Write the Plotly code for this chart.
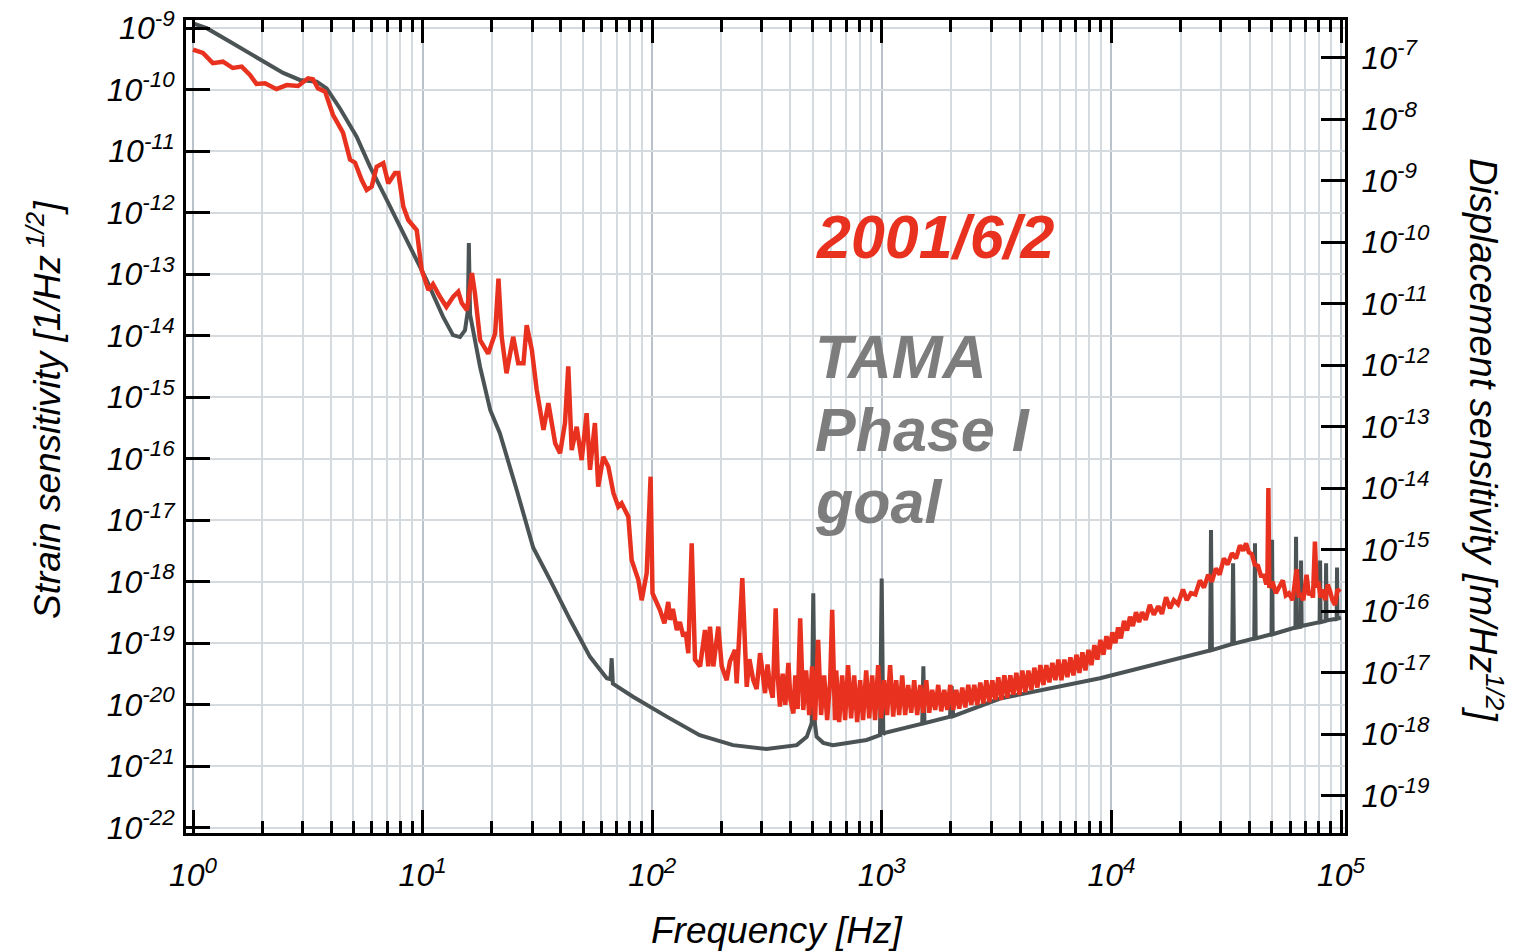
import numpy as np
import plotly.graph_objects as go

# ---------------- data ----------------
decade_freqs = [1, 10, 100, 1000, 10000, 100000]
decade_freq_labels = ["10<sup>0</sup>", "10<sup>1</sup>", "10<sup>2</sup>",
                      "10<sup>3</sup>", "10<sup>4</sup>", "10<sup>5</sup>"]
strain_exps = list(range(-22, -8))
disp_exps = list(range(-19, -6))
arm_length = 300.0  # displacement = strain * arm length

goal_freq = [1.0, 1.147, 1.45, 2.02, 2.47, 2.92, 3.46, 3.82, 4.36, 5.16, 5.90, 6.98,
             8.53, 10.4, 12.27, 13.56, 14.55, 15.3, 15.75, 15.9, 16.1, 17.8, 19.7,
             21.7, 25.7, 30.3, 35.9, 43.9, 53.6, 63.4, 65.8, 66.6, 67.4, 82.5, 115.7,
             136, 161, 225, 270, 315, 426, 471, 495, 503, 511, 520, 556, 612, 859, 982,
             999, 1015, 1033, 1419, 1500, 1517, 1534, 1982, 2014, 2046, 3273, 8920,
             26900, 27150, 27400, 33600, 33880, 34160, 41900, 42200, 42500,
             49800, 50100, 50400, 63300, 63700, 64100, 66600, 67000, 67400,
             80700, 81100, 81500, 85700, 86100, 86500, 95700, 96100, 96500, 100000]
goal_strain = [1.2e-9, 1.0e-9, 6.0e-10, 2.85e-10, 1.87e-10, 1.44e-10, 1.35e-10, 1.05e-10,
               5.0e-11, 1.72e-11, 5.6e-12, 1.61e-12, 3.6e-13, 8.05e-14, 2.04e-14,
               1.02e-14, 9.5e-15, 1.23e-14, 2.6e-14, 3.2e-13, 2.2e-14, 3.1e-15, 6.2e-16,
               2.6e-16, 3.1e-17, 3.6e-18, 1.07e-18, 2.4e-19, 6.0e-20, 2.7e-20, 2.6e-20,
               5.7e-20, 2.2e-20, 1.35e-20, 6.4e-21, 4.5e-21, 3.2e-21, 2.2e-21, 2.0e-21,
               1.9e-21, 2.2e-21, 3.0e-21, 5.0e-21, 6.5e-19, 5.0e-21, 3.0e-21, 2.4e-21,
               2.2e-21, 2.67e-21, 3.2e-21, 1.13e-18, 3.3e-21, 3.5e-21, 4.7e-21, 4.9e-21,
               4.2e-20, 5.0e-21, 6.4e-21, 2.0e-20, 6.5e-21, 1.26e-20, 2.7e-20,
               7.6e-20, 6.9e-18, 7.7e-20, 9.7e-20, 2.0e-18, 9.8e-20, 1.19e-19, 4.2e-18,
               1.2e-19, 1.4e-19, 4.8e-18, 1.4e-19, 1.8e-19, 5.4e-18, 1.8e-19,
               1.85e-19, 2.2e-18, 1.9e-19, 2.2e-19, 2.2e-18, 2.2e-19, 2.3e-19, 2.0e-18,
               2.35e-19, 2.5e-19, 1.7e-18, 2.5e-19, 2.6e-19]

meas_freq = [1.0, 1.105, 1.22, 1.35, 1.49, 1.63, 1.77, 1.89, 2.06, 2.31, 2.56, 2.87,
             3.17, 3.33, 3.50, 3.76, 4.07, 4.50, 4.83, 5.08, 5.43, 5.71, 6.00, 6.31,
             6.74, 7.09, 7.58, 7.84, 8.24, 8.66, 9.43, 9.91, 10.6, 11.1, 11.9, 12.7,
             13.6, 14.3, 14.8, 15.6, 16.4, 16.9, 17.8, 19.3, 20.7, 21.4, 22.1, 23.2,
             24.8, 26.1, 27.5, 28.4, 29.9, 31.4, 33.6, 35.3, 37.8, 39.7, 41.7, 43.1,
             44.6, 46.9, 49.3, 51.8, 53.6, 56.3, 58.2, 61.2, 64.4, 67.8, 71.2, 73.6,
             78.7, 81.4, 87.0, 90.0, 94.6, 98.4, 100.3, 108, 113, 117.5, 119.6, 123,
             128, 132, 136.6, 140, 143.6, 148.6, 153.6, 161.6, 169.8, 175.5, 178.5,
             184.6, 194.1, 200.8, 211, 218, 229.4, 233.3, 246.8, 258, 265, 275.6, 285,
             295, 302, 310, 318, 326, 335, 345, 352, 360, 370, 380, 392, 400, 412, 420,
             430,
             441, 455, 468, 483, 497, 512, 528, 544, 561, 578, 596, 608, 625, 633, 652,
             672, 692, 713, 735, 758, 781, 805, 829, 855, 881, 908, 935, 964, 993, 1024,
             1055, 1087, 1121, 1155, 1190, 1227, 1264, 1303, 1343, 1384, 1426, 1470,
             1515, 1561, 1609, 1658, 1709, 1761, 1815, 1870, 1928, 1987, 2047, 2110,
             2174, 2241, 2310, 2380, 2453, 2528, 2605, 2685, 2767, 2852, 2939, 3029,
             3121, 3217, 3315, 3417, 3521, 3629, 3740, 3854, 3972, 4094, 4219, 4348,
             4481, 4618, 4759, 4905, 5055, 5209, 5368, 5533, 5702, 5876, 6056, 6241,
             6432, 6629, 6831, 7040, 7256, 7477, 7706, 7942, 8185, 8435, 8692, 8958,
             9232, 9514, 9805,
             10100, 10400, 10700, 11000, 11350, 11700, 12050, 12400, 12800, 13200,
             13600, 14100, 14700, 15300, 16000, 16600, 17300, 18000, 18700, 19500,
             20500, 21300, 22200, 23200, 24300, 25300, 26400, 27400, 28500, 29600,
             30900, 32100, 33500, 34900, 36300, 37500, 38600, 39700, 40900, 42100,
             43500, 44800, 46200, 47300, 47800, 48270, 48700, 50300, 52000, 53800,
             55800, 57500, 59300, 61500, 64100, 65500, 66300, 68500, 70800, 72500,
             74000, 75500, 77000, 78300, 79600, 81500, 83700, 85500, 87500, 89600,
             91800, 94200, 96500, 99100]
meas_strain = [4.5e-10, 3.95e-10, 2.7e-10, 2.85e-10, 2.25e-10, 2.37e-10, 1.73e-10,
               1.24e-10, 1.27e-10, 1.02e-10, 1.19e-10, 1.15e-10, 1.53e-10, 1.48e-10,
               1.05e-10, 9.3e-11, 3.9e-11, 2.0e-11, 7.3e-12, 6.5e-12, 3.4e-12, 2.34e-12,
               2.65e-12, 5.6e-12, 6.4e-12, 3.0e-12, 4.4e-12, 4.4e-12, 1.26e-12, 7.6e-13,
               5.2e-13, 1.17e-13, 5.5e-14, 6.9e-14, 4.3e-14, 2.95e-14, 4.3e-14, 5.2e-14,
               3.4e-14, 2.6e-14, 1.04e-13, 4.9e-14, 8.5e-15, 5.1e-15, 1.09e-14, 8.5e-14,
               9.6e-15, 2.45e-15, 9.6e-15, 3.55e-15, 3.55e-15, 1.48e-14, 5.9e-15,
               1.32e-15, 2.95e-16, 8.0e-16, 1.78e-16, 1.23e-16, 3.8e-16, 3.16e-15,
               1.38e-16, 3.3e-16, 9.5e-17, 5.5e-16, 6.6e-17, 3.8e-16, 3.5e-17, 1.07e-16,
               7.4e-17, 2.75e-17, 1.66e-17, 1.88e-17, 1.14e-17, 2.24e-18, 1.07e-18,
               5.0e-19, 1.37e-18, 5.1e-17, 6.5e-19, 3.5e-19, 2.1e-19, 4.7e-19, 2.4e-19,
               3.6e-19, 1.64e-19, 2.2e-19, 1.29e-19, 1.5e-19, 6.9e-20, 4.2e-18, 5.4e-20,
               4.2e-20, 1.64e-19, 4.2e-20, 1.86e-19, 4.2e-20, 1.86e-19, 4.2e-20, 2.5e-20,
               5.0e-20, 7.8e-20, 2.23e-20, 1.14e-18, 1.95e-20, 5.5e-20, 2.5e-20, 1.8e-20,
               6.9e-20, 3.5e-20, 1.54e-20, 4.5e-20, 1.95e-20, 1.3e-20, 3.7e-19, 3.0e-20,
               9.3e-21, 3.2e-20, 1.0e-20, 4.8e-20, 1.2e-20, 7.2e-21, 3.0e-20, 8.5e-21,
               2.54e-19, 8.2e-21, 3.6e-20, 6.8e-21, 4.2e-20, 5.6e-21, 1.13e-19, 6.8e-21,
               3.0e-20, 5.6e-21, 2.5e-20, 3.5e-19, 5.6e-21, 3.6e-20, 5.2e-21, 3.0e-20,
               5.6e-21, 4.4e-20, 6.0e-21, 3.0e-20, 5.2e-21, 2.5e-20, 5.6e-21, 3.6e-20,
               6.0e-21, 3.0e-20, 5.6e-21, 4.4e-20, 6.0e-21, 2.5e-20, 6.8e-21, 4.4e-20,
               6.4e-21, 2.5e-20, 6.8e-21, 3.0e-20, 6.8e-21, 2.1e-20, 7.4e-21, 2.5e-20,
               6.8e-21, 2.1e-20, 7.4e-21, 2.5e-20, 7.4e-21, 1.74e-20, 8.2e-21, 2.1e-20,
               7.8e-21, 1.74e-20, 8.2e-21, 2.1e-20, 8.2e-21, 1.74e-20, 8.6e-21, 1.9e-20,
               9.0e-21, 2.1e-20, 9.9e-21, 2.1e-20, 9.9e-21, 2.3e-20, 1.05e-20, 2.5e-20,
               1.1e-20, 2.5e-20, 1.2e-20, 2.8e-20, 1.2e-20, 3.0e-20, 1.3e-20, 3.0e-20,
               1.45e-20, 3.3e-20, 1.45e-20, 3.6e-20, 1.6e-20, 3.6e-20, 1.74e-20, 4.0e-20,
               1.9e-20, 4.4e-20, 2.1e-20, 4.4e-20, 2.3e-20, 4.8e-20, 2.5e-20, 5.4e-20,
               2.5e-20, 5.4e-20, 2.8e-20, 5.9e-20, 3.0e-20, 6.5e-20, 3.3e-20, 7.1e-20,
               3.6e-20, 7.8e-20, 4.4e-20, 9.3e-20, 5.4e-20, 1.13e-19, 6.5e-20, 1.3e-19,
               8.0e-20,
               1.5e-19, 1.0e-19, 1.8e-19, 1.2e-19, 2.3e-19, 1.6e-19, 2.7e-19, 1.9e-19,
               3.2e-19, 2.2e-19, 3.2e-19, 2.4e-19, 4.2e-19, 2.9e-19, 4.0e-19, 3.0e-19,
               5.6e-19, 3.7e-19, 5.0e-19, 4.3e-19, 7.5e-19, 5.0e-19, 6.5e-19, 6.2e-19,
               1.05e-18, 8.0e-19, 1.3e-18, 1.0e-18, 1.65e-18, 1.3e-18, 2.4e-18, 1.9e-18,
               2.9e-18, 2.4e-18, 3.9e-18, 3.2e-18, 4.2e-18, 3.0e-18, 2.8e-18, 1.9e-18,
               1.8e-18, 1.25e-18, 1.25e-18, 9.0e-19, 1.1e-18, 3.35e-17, 8.0e-19, 1.0e-18,
               6.5e-19, 8.5e-19, 1.05e-18, 6.0e-19, 6.5e-19, 5.0e-19, 1.6e-18, 5.5e-19,
               6.5e-19, 5.0e-19, 1.3e-18, 6.0e-19, 7.0e-19, 5.5e-19, 4.5e-18, 8.0e-19,
               1.0e-18, 5.5e-19, 7.5e-19, 5.0e-19, 9.0e-19, 7.0e-19, 5.0e-19, 4.2e-19,
               7.5e-19, 6.8e-19]

# annotation pointer lines (start / end in data values)
meas_pointer = [(68.2, 3.8e-16), (419, 3.2e-13)]
goal_pointer = [(93, 2.5e-20), (419, 1.1e-15)]

# ---------------- style ----------------
RED = "#e8321f"
DARK = "#4b5355"
LABEL_GRAY = "#7d7d7d"
GRID_MAJOR = "#b9c2ca"
GRID_MINOR = "#d4dade"
FONT = "Liberation Sans, Arial, sans-serif"

W, H = 1510, 944          # page is offset by the 8px body margin
ML, MR, MT, MB = 178, 173, 12, 119
PW, PH = W - ML - MR, H - MT - MB


def page_to_paper(px, py):
    return (px - 8 - ML) / PW, (H - MB - (py - 8)) / PH


minor_vals = [m * d for d in decade_freqs[:-1] for m in range(2, 10)]

fig = go.Figure()
fig.add_trace(go.Scatter(x=goal_freq, y=goal_strain, mode="lines",
                         line=dict(color=DARK, width=4), hoverinfo="skip",
                         showlegend=False))
fig.add_trace(go.Scatter(x=meas_freq, y=meas_strain, mode="lines",
                         line=dict(color=RED, width=4.5), hoverinfo="skip",
                         showlegend=False))
# same goal curve expressed as displacement, drawn invisibly on the right axis
fig.add_trace(go.Scatter(x=goal_freq, y=[s * arm_length for s in goal_strain],
                         yaxis="y2", mode="lines", line=dict(width=0),
                         opacity=0, hoverinfo="skip", showlegend=False))

L = np.log10
xr = [-0.0305, 5.0174]
yr = [-22.086, -8.867]
y2r = [yr[0] + L(arm_length), yr[1] + L(arm_length)]

tickfont = dict(family=FONT, size=32, color="black", style="italic")

fig.update_layout(
    width=W, height=H,
    margin=dict(l=ML, r=MR, t=MT, b=MB, autoexpand=False),
    paper_bgcolor="white", plot_bgcolor="white",
    xaxis=dict(type="log", range=xr, tickmode="array", tickvals=decade_freqs,
               ticktext=decade_freq_labels, ticks="inside", ticklen=23, tickwidth=3,
               tickcolor="black", showline=True, linewidth=3, linecolor="black",
               mirror="ticks", showgrid=True, gridcolor=GRID_MAJOR, gridwidth=2,
               zeroline=False, tickfont=tickfont, ticklabelstandoff=12,
               automargin=False, ticklabeloverflow="allow",
               minor=dict(tickmode="array", tickvals=minor_vals, ticks="inside",
                          ticklen=12, tickwidth=3, tickcolor="black",
                          showgrid=True, gridcolor=GRID_MINOR, gridwidth=1.5)),
    yaxis=dict(type="log", range=yr, tickmode="array",
               tickvals=[10.0 ** e for e in strain_exps],
               ticktext=["10<sup>%d</sup>" % e for e in strain_exps],
               ticks="inside", ticklen=24, tickwidth=3, tickcolor="black",
               showline=True, linewidth=3, linecolor="black",
               showgrid=True, gridcolor=GRID_MINOR, gridwidth=1.5, zeroline=False,
               tickfont=tickfont, ticklabelstandoff=2, automargin=False,
               ticklabeloverflow="allow"),
    yaxis2=dict(type="log", range=y2r, overlaying="y", side="right",
                tickmode="array", tickvals=[10.0 ** e for e in disp_exps],
                ticktext=["10<sup>%d</sup>" % e for e in disp_exps],
                ticks="inside", ticklen=24, tickwidth=3, tickcolor="black",
                showline=True, linewidth=3, linecolor="black", showgrid=False,
                zeroline=False, tickfont=tickfont, ticklabelstandoff=7,
                automargin=False, ticklabeloverflow="allow"),
)

# pointer lines (log coordinates for shapes on log axes)
for (p0, p1), col in [(meas_pointer, RED), (goal_pointer, "black")]:
    fig.add_shape(type="line", xref="x", yref="y",
                  x0=L(p0[0]), y0=L(p0[1]), x1=L(p1[0]), y1=L(p1[1]),
                  line=dict(color=col, width=2))

big = dict(family=FONT, size=61, weight="bold", style="italic")
fig.add_annotation(x=L(505), y=L(4.1e-13), xref="x", yref="y", text="2001/6/2",
                   showarrow=False, xanchor="left", yanchor="middle",
                   font=dict(big, color=RED))
for txt, yv in [("TAMA", 4.5e-15), ("Phase I", 2.95e-16), ("goal", 2.0e-17)]:
    fig.add_annotation(x=L(500), y=L(yv), xref="x", yref="y", text=txt,
                       showarrow=False, xanchor="left", yanchor="middle",
                       font=dict(big, color=LABEL_GRAY))

for txt, (px, py), ang, size in [
        ("Strain sensitivity [1/Hz<sup> 1/2</sup>]", (44, 410), -90, 37),
        ("Displacement sensitivity [m/Hz<sup>1/2</sup>]", (1486, 440), 90, 38),
        ("Frequency [Hz]", (777, 930), 0, 37)]:
    ax_, ay_ = page_to_paper(px, py)
    fig.add_annotation(x=ax_, y=ay_, xref="paper", yref="paper", text=txt,
                       textangle=ang, showarrow=False, xanchor="center",
                       yanchor="middle",
                       font=dict(family=FONT, size=size, color="black",
                                 style="italic"))

fig.write_html("out.html", config={"displayModeBar": False})
